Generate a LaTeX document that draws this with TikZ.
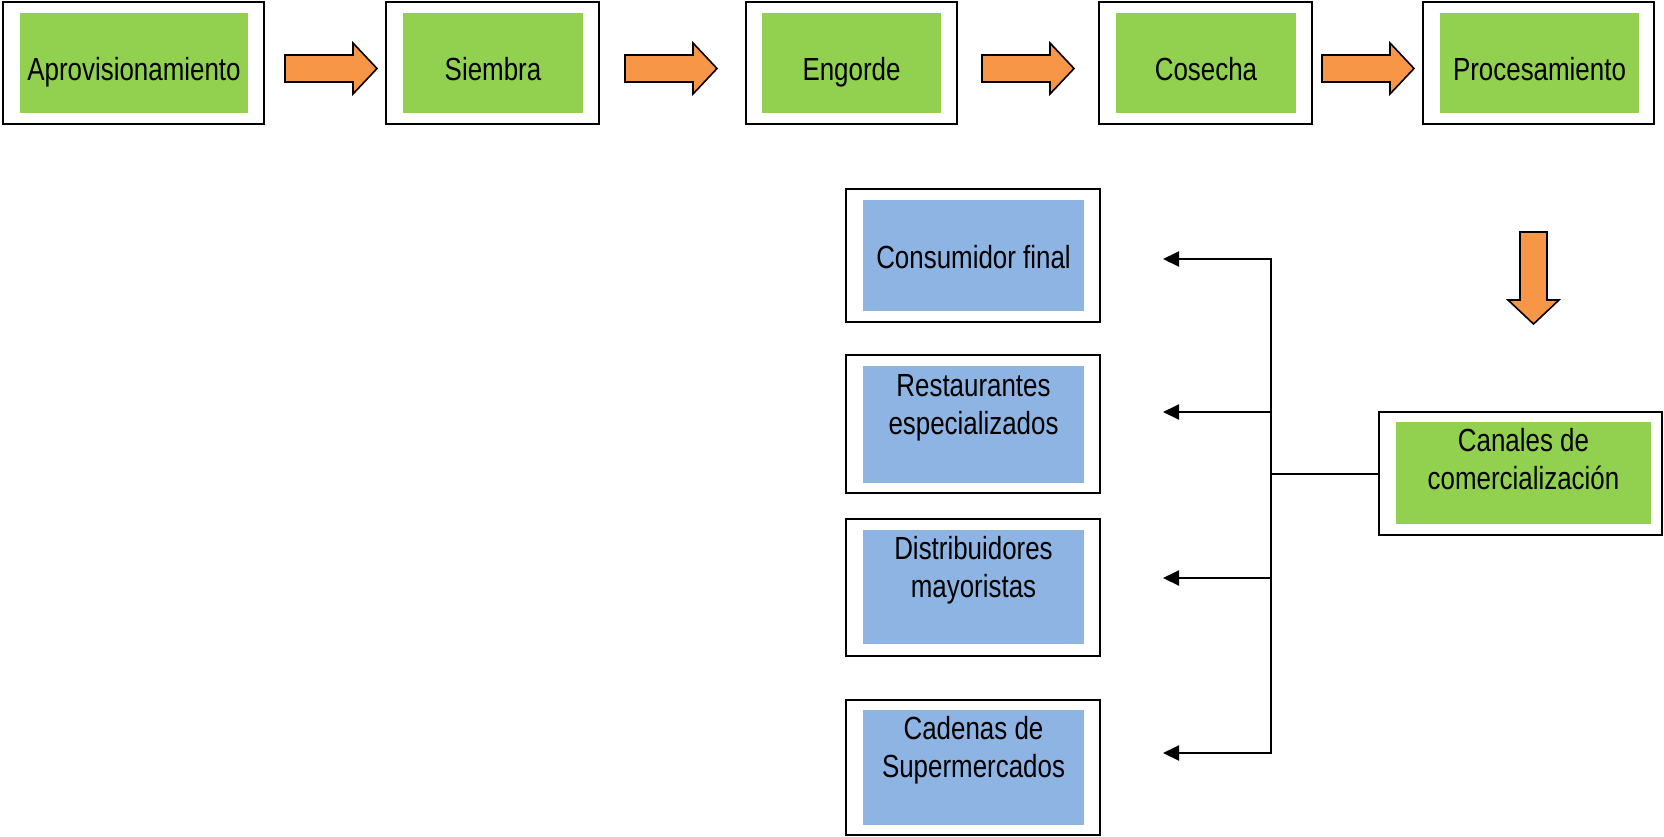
\documentclass[tikz,border=0pt]{standalone}
\usepackage{fontspec}
\setmainfont{Liberation Sans}[FakeStretch=0.81]
\usetikzlibrary{arrows.meta}
\definecolor{stagegreen}{HTML}{92D050}
\definecolor{channelblue}{HTML}{8EB4E3}
\definecolor{flowarrow}{HTML}{F79646}

\begin{document}
\begin{tikzpicture}[x=0.5pt,y=-0.5pt,
	frame/.style={draw=black,line width=1pt,fill=white,inner sep=0pt},
	fillgreen/.style={fill=stagegreen,inner sep=0pt},
	fillblue/.style={fill=channelblue,inner sep=0pt},
	txt/.style={anchor=base,align=center,inner sep=0pt,font=\fontsize{16pt}{19pt}\selectfont},
	wire/.style={line width=1pt},
	tip/.style={-{Triangle[length=8pt,width=7.5pt]}},
	flow/.pic={\draw[fill=flowarrow,line width=0.8pt,line join=miter] (0,-13.5) -- (68,-13.5) -- (68,-25.5) -- (92,0) -- (68,25.5) -- (68,13.5) -- (0,13.5) -- cycle;}]
	\useasboundingbox (0,0) rectangle (1664,836);
	% etapas
	\node[frame,minimum width=130.5pt,minimum height=61pt] (aprov) at (133.5,63) {};
	\node[fillgreen,minimum width=114pt,minimum height=50pt] (aprov-in) at (134,63) {};
	\node[txt] (aprov-t) at (134,80) {Aprovisionamiento};
	\node[frame,minimum width=106.5pt,minimum height=61pt] (siembra) at (492.5,63) {};
	\node[fillgreen,minimum width=90pt,minimum height=50pt] (siembra-in) at (493,63) {};
	\node[txt] (siembra-t) at (493,80) {Siembra};
	\node[frame,minimum width=105.5pt,minimum height=61pt] (engorde) at (851.5,63) {};
	\node[fillgreen,minimum width=89.5pt,minimum height=50pt] (engorde-in) at (851.5,63) {};
	\node[txt] (engorde-t) at (851.5,80) {Engorde};
	\node[frame,minimum width=106.5pt,minimum height=61pt] (cosecha) at (1205.5,63) {};
	\node[fillgreen,minimum width=90pt,minimum height=50pt] (cosecha-in) at (1206,63) {};
	\node[txt] (cosecha-t) at (1206,80) {Cosecha};
	\node[frame,minimum width=115.5pt,minimum height=61pt] (proces) at (1538.5,63) {};
	\node[fillgreen,minimum width=99.5pt,minimum height=50pt] (proces-in) at (1539.5,63) {};
	\node[txt] (proces-t) at (1539.5,80) {Procesamiento};
	\pic at (285,68.5) {flow};
	\pic at (625,68.5) {flow};
	\pic at (982,68.5) {flow};
	\pic at (1322,68.5) {flow};
	\pic[rotate=-90] at (1533.5,232) {flow};
	% canales
	\node[frame,minimum width=141.5pt,minimum height=61.5pt] (canales) at (1520.5,473.5) {};
	\node[fillgreen,minimum width=127.5pt,minimum height=51pt] (canales-in) at (1523.5,473) {};
	\node[txt] (canales-t) at (1523.5,489) {Canales de\\comercialización};
	\node[frame,minimum width=127pt,minimum height=66.5pt] (consum) at (973,255.5) {};
	\node[fillblue,minimum width=110.5pt,minimum height=55.5pt] (consum-in) at (973.5,255.5) {};
	\node[txt] (consum-t) at (973.5,268) {Consumidor final};
	\node[frame,minimum width=127pt,minimum height=69pt] (rest) at (973,424) {};
	\node[fillblue,minimum width=110.5pt,minimum height=58.5pt] (rest-in) at (973.5,424.5) {};
	\node[txt] (rest-t) at (973.5,434) {Restaurantes\\especializados};
	\node[frame,minimum width=127pt,minimum height=68.5pt] (distr) at (973,587.5) {};
	\node[fillblue,minimum width=110.5pt,minimum height=57pt] (distr-in) at (973.5,587) {};
	\node[txt] (distr-t) at (973.5,597) {Distribuidores\\mayoristas};
	\node[frame,minimum width=127pt,minimum height=67.5pt] (cadenas) at (973,767.5) {};
	\node[fillblue,minimum width=110.5pt,minimum height=57.5pt] (cadenas-in) at (973.5,767.5) {};
	\node[txt] (cadenas-t) at (973.5,777) {Cadenas de\\Supermercados};
	% distribucion
	\coordinate (bus1) at (1271,259);
	\coordinate (bus2) at (1271,412);
	\coordinate (bus3) at (1271,578);
	\coordinate (bus4) at (1271,753);
	\coordinate (tip1) at (1163,259);
	\coordinate (tip2) at (1163,412);
	\coordinate (tip3) at (1163,578);
	\coordinate (tip4) at (1163,753);
	\draw[wire] (canales.west) -- (canales.west -| bus1);
	\draw[wire,tip] (bus3) -- (bus1) -- (tip1);
	\draw[wire,tip] (bus2) -- (bus4) -- (tip4);
	\draw[wire,tip] (bus2) -- (tip2);
	\draw[wire,tip] (bus3) -- (tip3);
\end{tikzpicture}
\end{document}
